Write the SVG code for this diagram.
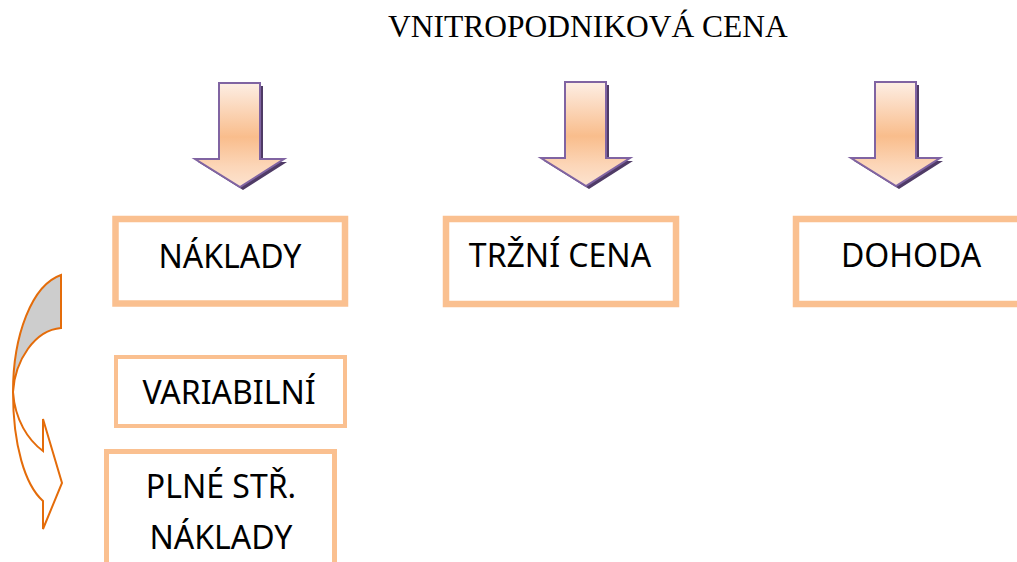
<svg xmlns="http://www.w3.org/2000/svg" width="1017" height="562" viewBox="0 0 1017 562">
<style>
.box{fill:#fff;stroke:#FAC090}
.lbl{font-family:"Noto Sans","Open Sans",sans-serif;font-size:32px;fill:#000;text-anchor:middle}
.ttl{font-family:"Liberation Serif","Times New Roman",serif;font-size:31.5px;fill:#000}
.arr{fill:url(#g);stroke:#8064A2;stroke-width:2;stroke-linejoin:miter}
.shd{fill:#4F3B66}
</style>
<defs>
<linearGradient id="g" x1="0" y1="0" x2="0" y2="1">
<stop offset="0" stop-color="#FDEEE4"/>
<stop offset="0.52" stop-color="#F9BD8C"/>
<stop offset="0.8" stop-color="#FCD6B8"/>
<stop offset="1" stop-color="#FCE3CF"/>
</linearGradient>
<path id="down" d="M-21,0 L20,0 L20,76 L44,76 L0,104 L-45,76 L-21,76 Z"/>
</defs>
<rect width="1017" height="562" fill="#fff"/>
<text class="ttl" x="388" y="37">VNITROPODNIKOVÁ CENA</text>
<g id="connectors">
<g id="arrow1" transform="translate(240,83)"><use href="#down" class="shd" transform="translate(3,3)"/><use href="#down" class="arr"/></g>
<g id="arrow2" transform="translate(586,82)"><use href="#down" class="shd" transform="translate(3,3)"/><use href="#down" class="arr"/></g>
<g id="arrow3" transform="translate(896,82)"><use href="#down" class="shd" transform="translate(3,3)"/><use href="#down" class="arr"/></g>
<g id="curved-arrow">
<path d="M61,275 C32,285 13,335 13,392 C15,360 35,330 61,328 Z" fill="#CDCDCD" stroke="none"/>
<path d="M61,275 C32,285 13,335 13,392 C13,445 25,485 43,501 L43,529 L62,483 L43,419 L43,451 C28,440 15,420 13,392 C15,360 35,330 61,328 Z" fill="none" stroke="#E46C0A" stroke-width="2" stroke-linejoin="miter"/>
</g>
</g>
<g id="naklady">
<rect class="box" x="115.5" y="219" width="229.5" height="84.5" stroke-width="6.5"/>
<text class="lbl" x="230" y="268">NÁKLADY</text>
</g>
<g id="trzni-cena">
<rect class="box" x="446" y="219" width="230" height="85" stroke-width="6.5"/>
<text class="lbl" x="560" y="267">TRŽNÍ CENA</text>
</g>
<g id="dohoda">
<rect class="box" x="796" y="219" width="260" height="85" stroke-width="6.5"/>
<text class="lbl" x="911" y="267">DOHODA</text>
</g>
<g id="variabilni">
<rect class="box" x="116" y="357" width="229" height="69" stroke-width="4"/>
<text class="lbl" x="229" y="404">VARIABILNÍ</text>
</g>
<g id="plne-str-naklady">
<rect class="box" x="106.5" y="451.5" width="228" height="140" stroke-width="5"/>
<text class="lbl" x="221" y="498">PLNÉ STŘ.</text>
<text class="lbl" x="221" y="549">NÁKLADY</text>
</g>
</svg>
